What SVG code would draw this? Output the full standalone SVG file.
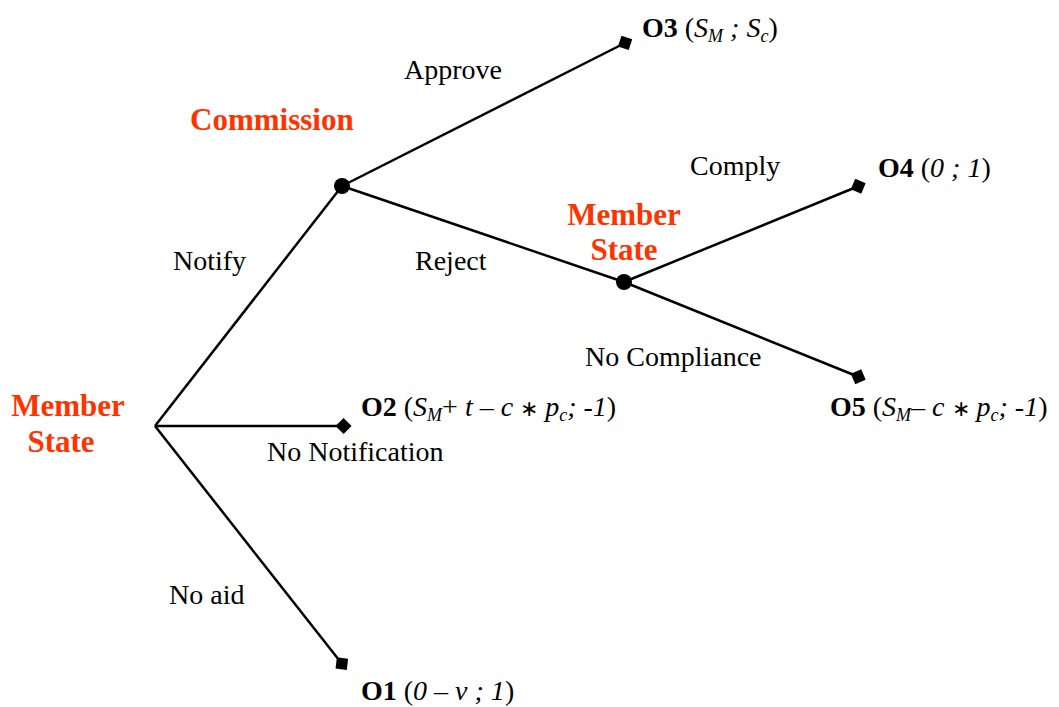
<svg xmlns="http://www.w3.org/2000/svg" width="1059" height="707" viewBox="0 0 1059 707">
<style>
.e{stroke:#000;stroke-width:2.5;fill:none}
.t{font-family:"Liberation Serif",serif;font-size:28px;fill:#000}
.b{font-weight:bold}
.i{font-style:italic}
.r{font-family:"Liberation Serif",serif;font-size:31px;font-weight:bold;fill:#FF3300}
.s{font-size:18px}
.a{font-size:22px}
</style>
<defs>
<marker id="sq" markerUnits="userSpaceOnUse" markerWidth="16" markerHeight="16" refX="3" refY="7" orient="auto" viewBox="0 0 14 14"><path d="M0,7 L7,0 L14,7 L7,14 Z" fill="#000"/></marker>
</defs>
<rect width="1059" height="707" fill="#fff"/>
<g id="connectors">
<line class="e" x1="155" y1="426" x2="342" y2="186"/>
<line class="e" x1="155" y1="426" x2="339" y2="426" marker-end="url(#sq)"/>
<line class="e" x1="155" y1="426" x2="339" y2="660" marker-end="url(#sq)"/>
<line class="e" x1="342" y1="186" x2="621" y2="45" marker-end="url(#sq)"/>
<line class="e" x1="342" y1="186" x2="624" y2="282"/>
<line class="e" x1="624" y1="282" x2="854" y2="188" marker-end="url(#sq)"/>
<line class="e" x1="624" y1="282" x2="854" y2="375" marker-end="url(#sq)"/>
</g>
<g id="n-root">
<text class="r" text-anchor="middle" x="68" y="416">Member</text>
<text class="r" text-anchor="middle" x="61" y="452">State</text>
</g>
<g id="n-commission">
<circle cx="342" cy="186" r="8" fill="#000"/>
<text class="r" x="190" y="130">Commission</text>
</g>
<g id="n-ms2">
<circle cx="624" cy="282" r="8" fill="#000"/>
<text class="r" text-anchor="middle" x="624" y="225">Member</text>
<text class="r" text-anchor="middle" x="624" y="260">State</text>
</g>
<g id="labels">
<text class="t" x="404" y="79">Approve</text>
<text class="t" x="690" y="175">Comply</text>
<text class="t" x="173" y="270">Notify</text>
<text class="t" x="415" y="270">Reject</text>
<text class="t" x="585" y="366">No Compliance</text>
<text class="t" x="267" y="461">No Notification</text>
<text class="t" x="169" y="604">No aid</text>
</g>
<g id="o3"><text class="t" x="642" y="37"><tspan class="b">O3</tspan> (<tspan class="i">S<tspan class="s" dy="5">M</tspan><tspan dy="-5"> ; S</tspan><tspan class="s" dy="5">c</tspan></tspan><tspan dy="-5">)</tspan></text></g>
<g id="o4"><text class="t" x="878" y="177"><tspan class="b">O4</tspan> (<tspan class="i">0 ; 1</tspan>)</text></g>
<g id="o2"><text class="t" x="361" y="416"><tspan class="b">O2</tspan> (<tspan class="i">S<tspan class="s" dy="5">M</tspan></tspan><tspan dy="-5">+ </tspan><tspan class="i">t</tspan> – <tspan class="i">c</tspan> <tspan class="a">∗</tspan> <tspan class="i">p<tspan class="s" dy="5">c</tspan><tspan dy="-5">; -1</tspan></tspan>)</text></g>
<g id="o5"><text class="t" x="830" y="416"><tspan class="b">O5</tspan> (<tspan class="i">S<tspan class="s" dy="5">M</tspan></tspan><tspan dy="-5">– </tspan><tspan class="i">c</tspan> <tspan class="a">∗</tspan> <tspan class="i">p<tspan class="s" dy="5">c</tspan><tspan dy="-5">; -1</tspan></tspan>)</text></g>
<g id="o1"><text class="t" x="361" y="700"><tspan class="b">O1</tspan> (<tspan class="i">0 – v ; 1</tspan>)</text></g>
</svg>
